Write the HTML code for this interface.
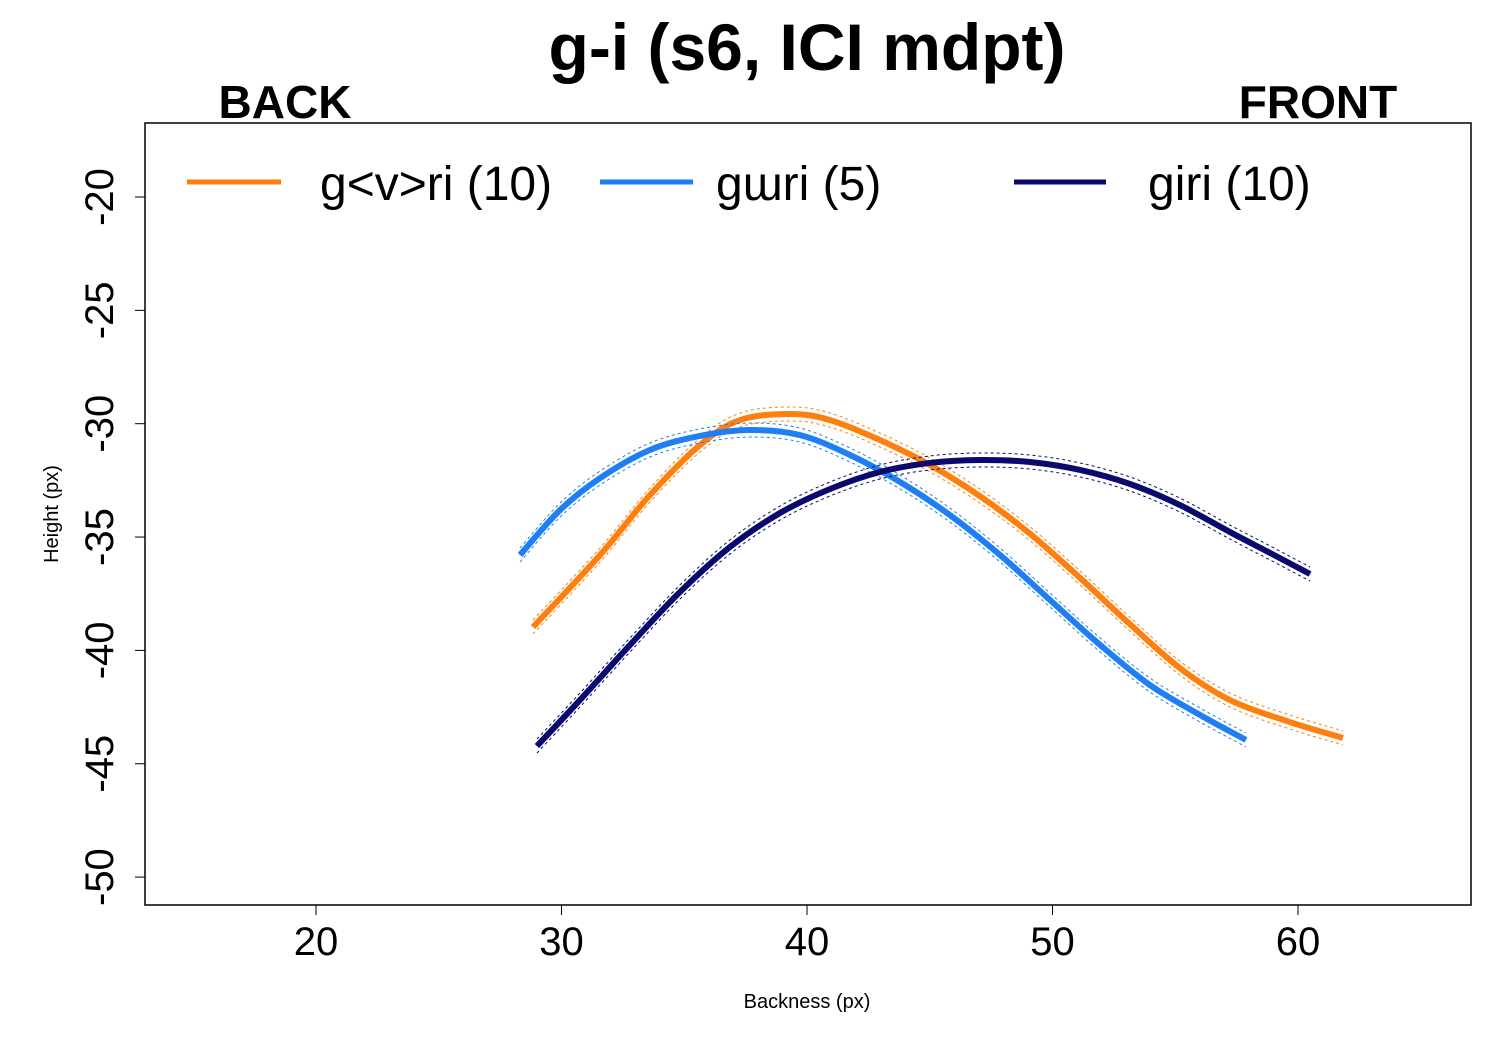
<!DOCTYPE html>
<html><head><meta charset="utf-8"><style>
body{margin:0;background:#fff}
svg text{font-family:"Liberation Sans",Arial,sans-serif}
</style></head><body>
<svg id="chart" width="1500" height="1050" xmlns="http://www.w3.org/2000/svg">
<text x="807" y="70" font-size="66" font-weight="bold" text-anchor="middle">g-i (s6, ICI mdpt)</text>
<text x="285" y="118" font-size="46" font-weight="bold" text-anchor="middle">BACK</text>
<text x="1318" y="118" font-size="46" font-weight="bold" text-anchor="middle">FRONT</text>
<rect x="145" y="123" width="1326" height="782" fill="none" stroke="#000" stroke-width="1.5"/>
<g id="xt"></g><g id="yt"></g><g id="series"></g>
<text x="807" y="1008" font-size="20" text-anchor="middle">Backness (px)</text>
<text transform="translate(58,514) rotate(-90)" font-size="20" text-anchor="middle">Height (px)</text>
<g>
<line x1="187" y1="182" x2="281" y2="182" stroke="#ff7f0e" stroke-width="5"/>
<text x="320" y="200" font-size="48">g&lt;v&gt;ri (10)</text>
<line x1="600" y1="182" x2="693" y2="182" stroke="#1e7ff5" stroke-width="5"/>
<text x="716" y="200" font-size="48">gɯri (5)</text>
<line x1="1014" y1="182" x2="1106" y2="182" stroke="#0a0a6e" stroke-width="5"/>
<text x="1148" y="200" font-size="48">giri (10)</text>
</g>
</svg>
<script>
const xTicks=[20,30,40,50,60];
const yTicks=[-20,-25,-30,-35,-40,-45,-50];
const seriesNames=["gvri","gwri","giri"];
const orangeX=[28.84,31.57,33.60,35.64,37.27,39.31,40.94,42.97,45.01,47.05,49.08,51.12,53.16,55.19,57.23,59.67,61.83];
const orangeY=[-38.97,-35.79,-33.15,-30.94,-29.84,-29.57,-29.84,-30.72,-31.82,-33.20,-34.85,-36.80,-38.85,-40.78,-42.19,-43.16,-43.86];
const blueX=[28.31,29.94,31.57,33.60,35.64,37.68,39.71,41.75,43.79,45.82,47.86,49.90,51.94,53.97,56.01,57.88];
const blueY=[-35.79,-33.81,-32.40,-31.16,-30.54,-30.28,-30.50,-31.38,-32.57,-34.03,-35.79,-37.78,-39.76,-41.53,-42.85,-43.95];
const navyX=[29.00,30.75,32.79,34.83,36.86,38.90,40.94,42.97,45.01,47.05,49.08,51.12,53.16,55.19,57.23,58.86,60.49];
const navyY=[-44.22,-42.19,-39.76,-37.42,-35.44,-33.94,-32.88,-32.13,-31.73,-31.60,-31.69,-32.04,-32.66,-33.59,-34.78,-35.70,-36.63];
const NS="http://www.w3.org/2000/svg";
const sx=v=>316+(v-20)*24.55;
const sy=v=>197-(v+20)*22.67;
const xt=document.getElementById('xt'),yt=document.getElementById('yt'),sg=document.getElementById('series');
xTicks.forEach(t=>{
 const tk=document.createElementNS(NS,'line');
 tk.setAttribute('x1',sx(t));tk.setAttribute('x2',sx(t));tk.setAttribute('y1',905);tk.setAttribute('y2',915);tk.setAttribute('stroke','#000');
 
 
 xt.appendChild(tk);
 const tx=document.createElementNS(NS,'text');
 tx.setAttribute('x',sx(t));tx.setAttribute('y',955);tx.setAttribute('font-size','40');tx.setAttribute('text-anchor','middle');
 tx.textContent=t;
 
 
 xt.appendChild(tx);
});
yTicks.forEach(t=>{
 const tk=document.createElementNS(NS,'line');
 tk.setAttribute('x1',135);tk.setAttribute('x2',145);tk.setAttribute('y1',sy(t));tk.setAttribute('y2',sy(t));tk.setAttribute('stroke','#000');
 
 
 yt.appendChild(tk);
 const tx=document.createElementNS(NS,'text');
 tx.setAttribute('transform','translate(113,'+sy(t)+') rotate(-90)');tx.setAttribute('font-size','40');tx.setAttribute('text-anchor','middle');
 tx.textContent=t;
 
 
 yt.appendChild(tx);
});
function pathD(xs,ys,off){
 const p=xs.map((x,i)=>[sx(x),sy(ys[i])+off]);
 let d='M'+p[0][0]+','+p[0][1];
 for(let i=0;i<p.length-1;i++){
  const p0=p[Math.max(0,i-1)],p1=p[i],p2=p[i+1],p3=p[Math.min(p.length-1,i+2)];
  d+=' C'+(p1[0]+(p2[0]-p0[0])/6)+','+(p1[1]+(p2[1]-p0[1])/6)+' '+(p2[0]-(p3[0]-p1[0])/6)+','+(p2[1]-(p3[1]-p1[1])/6)+' '+p2[0]+','+p2[1];
 }
 return d;
}
[[orangeX,orangeY,'#ff7f0e','gvri'],[blueX,blueY,'#1e7ff5','gwri'],[navyX,navyY,'#0a0a6e','giri']].forEach(s=>{
 [-7,7].forEach(o=>{
  const c=document.createElementNS(NS,'path');
  c.setAttribute('d',pathD(s[0],s[1],o));c.setAttribute('fill','none');c.setAttribute('stroke',s[2]);c.setAttribute('stroke-width','1');c.setAttribute('stroke-dasharray','3,3');
  
  
  sg.appendChild(c);
 });
 const l=document.createElementNS(NS,'path');
 l.setAttribute('d',pathD(s[0],s[1],0));l.setAttribute('fill','none');l.setAttribute('stroke',s[2]);l.setAttribute('stroke-width','6');
 
 
 sg.appendChild(l);
});
</script>
</body></html>
